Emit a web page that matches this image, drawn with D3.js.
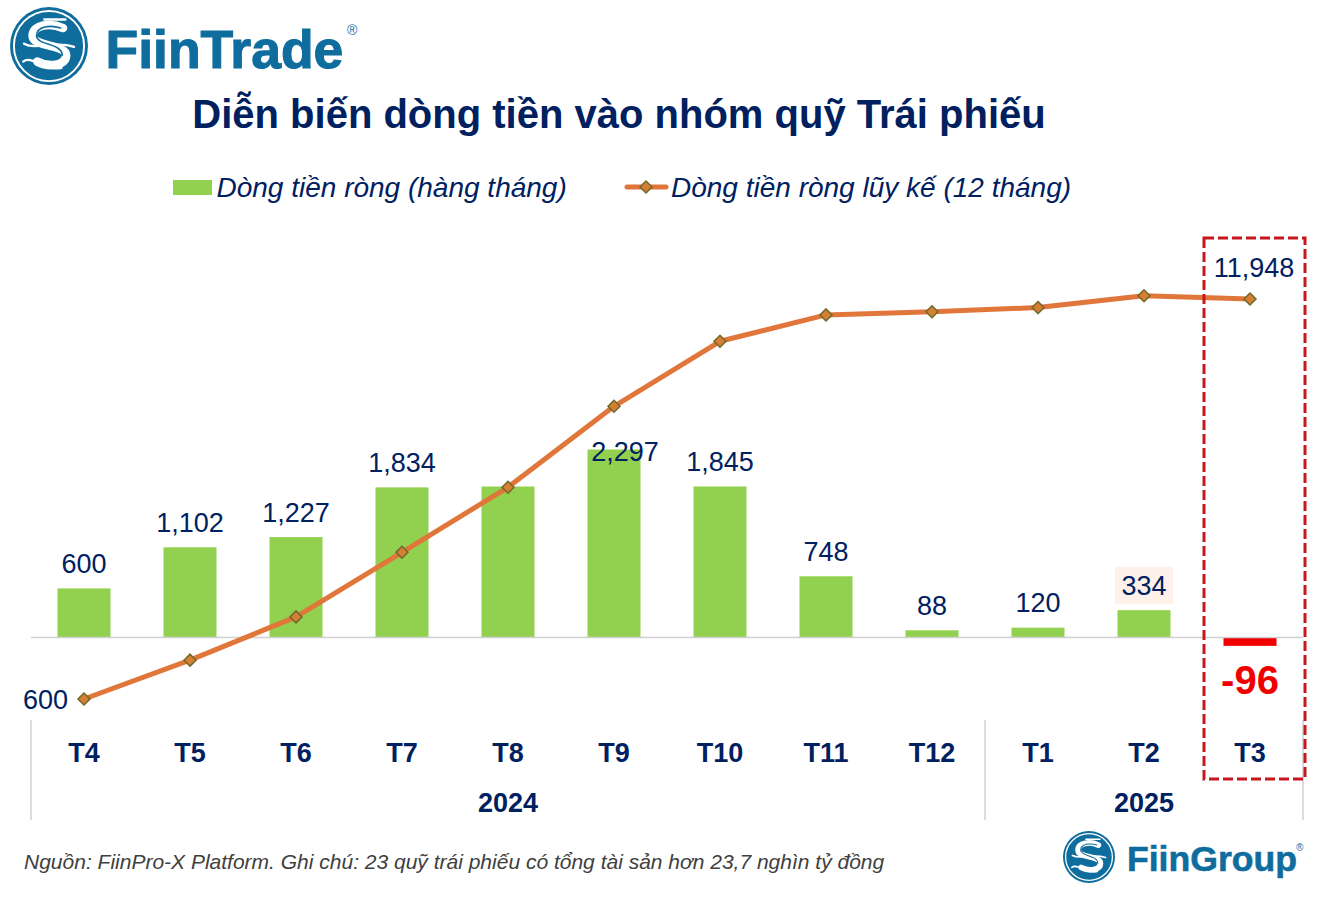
<!DOCTYPE html>
<html>
<head>
	<title>Diễn biến dòng tiền vào nhóm quỹ Trái phiếu</title>
	<script src="https://d3js.org/d3.v7.min.js"></script>
	<style type="text/css">
		html, body { margin: 0; padding: 0; background: #fff; }
		svg { display: block; }
		text { font-family: "Liberation Sans", Arial, sans-serif; }
		.navy { fill: #002060; }
		.month-axis .domain { display: none; }
		.month-axis text { font-size: 27px; font-weight: bold; fill: #002060; }
	</style>
</head>
<body>
<div id="visualization"></div>
<script type="text/javascript">
var months = ["T4", "T5", "T6", "T7", "T8", "T9", "T10", "T11", "T12", "T1", "T2", "T3"];
var monthly = [600, 1102, 1227, 1834, 1845, 2297, 1845, 748, 88, 120, 334, -96];
var cumulative = [600, 1702, 2929, 4763, 6607, 8904, 10749, 11497, 11585, 11705, 12039, 11948];
var hiddenMonthlyLabels = ["T8"];
var lineLabelMonths = ["T4", "T3"];
var years = [
	{label: "2024", mid: "T8", first: "T4"},
	{label: "2025", mid: "T2", first: "T1"}
];

var svg_width = 1325;
var svg_height = 897;
var navy = "#002060";
var logoBlue = "#0f6d9e";
// plain hyphen for the negative label, d3 would give a long minus
var fmt = function(v) { return d3.format(",")(v).replace("\u2212", "-"); };

var svg = d3.select("#visualization")
	.append("svg")
	.attr("width", svg_width)
	.attr("height", svg_height);

var x = d3.scaleBand()
	.domain(months)
	.range([31, 1303])
	.paddingInner(0.5)
	.paddingOuter(0.25);
var center = function(m) { return x(m) + x.bandwidth() / 2; };

// bars and line sit on separate axes, neither is drawn
var yBar = d3.scaleLinear().domain([0, 2297]).range([637.5, 449.5]);
var yLine = d3.scaleLinear().domain([600, 11948]).range([699, 299]);

// title
svg.append("text")
	.attr("x", 619)
	.attr("y", 128)
	.attr("text-anchor", "middle")
	.attr("class", "navy")
	.style("font-size", "40px")
	.style("font-weight", "bold")
	.text("Diễn biến dòng tiền vào nhóm quỹ Trái phiếu");

// legend
svg.append("rect")
	.attr("x", 173).attr("y", 180)
	.attr("width", 39).attr("height", 15)
	.attr("fill", "#92d050");
svg.append("text")
	.attr("x", 216.5).attr("y", 197)
	.attr("class", "navy")
	.style("font-size", "28px")
	.style("font-style", "italic")
	.text("Dòng tiền ròng (hàng tháng)");
svg.append("line")
	.attr("x1", 627).attr("x2", 666)
	.attr("y1", 187).attr("y2", 187)
	.attr("stroke", "#e0763a")
	.attr("stroke-width", 5)
	.attr("stroke-linecap", "round");
svg.append("path")
	.attr("d", d3.symbol(d3.symbolSquare, 72))
	.attr("transform", "translate(646,187) rotate(45)")
	.attr("fill", "#d67f33")
	.attr("stroke", "#6f6a2c")
	.attr("stroke-width", 1.5);
svg.append("text")
	.attr("x", 671).attr("y", 197)
	.attr("class", "navy")
	.style("font-size", "28px")
	.style("font-style", "italic")
	.text("Dòng tiền ròng lũy kế (12 tháng)");

// highlight behind the T2 label
svg.append("rect")
	.attr("x", center("T2") - 29)
	.attr("y", 567)
	.attr("width", 58)
	.attr("height", 37)
	.attr("fill", "#fdf1e9");

// bars
svg.selectAll(".bar")
	.data(months)
	.enter()
	.append("rect")
	.attr("class", "bar")
	.attr("x", function(m) { return x(m); })
	.attr("width", x.bandwidth())
	.attr("y", function(m, i) { return monthly[i] < 0 ? yBar(0) + 0.5 : yBar(monthly[i]); })
	.attr("height", function(m, i) { return Math.abs(yBar(monthly[i]) - yBar(0)); })
	.attr("fill", function(m, i) { return monthly[i] < 0 ? "#f00000" : "#92d050"; });

// baseline
svg.append("line")
	.attr("x1", 31).attr("x2", 1303)
	.attr("y1", yBar(0)).attr("y2", yBar(0))
	.attr("stroke", "#d0d0d0")
	.attr("stroke-width", 1.5);

// bar labels
svg.selectAll(".bar-label")
	.data(months.filter(function(m) { return hiddenMonthlyLabels.indexOf(m) < 0; }))
	.enter()
	.append("text")
	.attr("class", "bar-label")
	.attr("x", function(m) { return center(m) + (m == "T9" ? 11 : 0); })
	.attr("y", function(m) {
		var v = monthly[months.indexOf(m)];
		if (v < 0) return 693.5;
		if (m == "T9") return yBar(v) + 11;
		return yBar(v) - 15.2;
	})
	.attr("text-anchor", "middle")
	.attr("fill", function(m) { return monthly[months.indexOf(m)] < 0 ? "#f00000" : navy; })
	.style("font-size", function(m) { return monthly[months.indexOf(m)] < 0 ? "40px" : "27px"; })
	.style("font-weight", function(m) { return monthly[months.indexOf(m)] < 0 ? "bold" : "normal"; })
	.text(function(m) { return fmt(monthly[months.indexOf(m)]); });

// cumulative line
var line = d3.line()
	.x(function(m) { return center(m); })
	.y(function(m) { return yLine(cumulative[months.indexOf(m)]); });

svg.append("path")
	.datum(months)
	.attr("d", line)
	.attr("fill", "none")
	.attr("stroke", "#e0763a")
	.attr("stroke-width", 5)
	.attr("stroke-linejoin", "round");

svg.selectAll(".marker")
	.data(months)
	.enter()
	.append("path")
	.attr("class", "marker")
	.attr("d", d3.symbol(d3.symbolSquare, 72))
	.attr("transform", function(m) {
		return "translate(" + center(m) + "," + yLine(cumulative[months.indexOf(m)]) + ") rotate(45)";
	})
	.attr("fill", "#d67f33")
	.attr("stroke", "#6f6a2c")
	.attr("stroke-width", 1.5);

svg.selectAll(".line-label")
	.data(lineLabelMonths)
	.enter()
	.append("text")
	.attr("class", "line-label navy")
	.attr("x", function(m) { return m == "T4" ? center(m) - 38.5 : center(m) + 4; })
	.attr("y", function(m) { return m == "T4" ? yLine(cumulative[0]) + 9.5 : yLine(cumulative[11]) - 22; })
	.attr("text-anchor", "middle")
	.style("font-size", "27px")
	.text(function(m) { return fmt(cumulative[months.indexOf(m)]); });

// month axis
svg.append("g")
	.attr("class", "month-axis")
	.attr("transform", "translate(0,737)")
	.call(d3.axisBottom(x).tickSize(0).tickPadding(6));
svg.selectAll(".month-axis text").style("font-family", '"Liberation Sans", Arial, sans-serif');

// year labels and separators
svg.selectAll(".year")
	.data(years)
	.enter()
	.append("text")
	.attr("class", "year navy")
	.attr("x", function(d) { return center(d.mid); })
	.attr("y", 812)
	.attr("text-anchor", "middle")
	.style("font-size", "27px")
	.style("font-weight", "bold")
	.text(function(d) { return d.label; });

var separators = years.map(function(d) { return x(d.first) - x.step() * 0.25; }).concat([1303]);
svg.selectAll(".separator")
	.data(separators)
	.enter()
	.append("line")
	.attr("class", "separator")
	.attr("x1", function(d) { return d; })
	.attr("x2", function(d) { return d; })
	.attr("y1", 720)
	.attr("y2", 820)
	.attr("stroke", "#d0d0d0")
	.attr("stroke-width", 1.5);

// dashed box around the last month
svg.append("rect")
	.attr("x", 1204).attr("y", 238)
	.attr("width", 101).attr("height", 541)
	.attr("fill", "none")
	.attr("stroke", "#c8161d")
	.attr("stroke-width", 3)
	.attr("stroke-dasharray", "10,4");

// footnote
svg.append("text")
	.attr("x", 24).attr("y", 869)
	.attr("fill", "#404040")
	.style("font-size", "21px")
	.style("font-style", "italic")
	.text("Nguồn: FiinPro-X Platform. Ghi chú: 23 quỹ trái phiếu có tổng tài sản hơn 23,7 nghìn tỷ đồng");

// logos
function logoMark(cx, cy, r) {
	var g = svg.append("g").attr("transform", "translate(" + cx + "," + cy + ")");
	g.append("circle").attr("r", r).attr("fill", logoBlue);
	g.append("circle").attr("r", r * 0.9).attr("fill", "none").attr("stroke", "#fff").attr("stroke-width", r * 0.05);
	var s = g.append("g").attr("transform", "scale(" + r + ")")
		.attr("fill", "none").attr("stroke", "#fff").attr("stroke-linecap", "round");
	s.append("path")
		.attr("stroke-width", 0.22)
		.attr("d", "M0.36,-0.46 C0.05,-0.6 -0.42,-0.56 -0.42,-0.26 C-0.42,0.04 0.44,-0.06 0.44,0.24 C0.44,0.52 -0.02,0.55 -0.3,0.4");
	s.append("path")
		.attr("stroke-width", 0.06)
		.attr("d", "M-0.12,-0.68 L0.42,-0.68 M-0.64,-0.06 C-0.3,0.12 0.1,-0.15 0.64,0.02 M-0.66,0.4 C-0.45,0.22 -0.1,0.66 0.32,0.56");
	s.append("path")
		.attr("stroke", logoBlue)
		.attr("stroke-width", 0.04)
		.attr("d", "M0.3,-0.46 C0.05,-0.54 -0.32,-0.52 -0.32,-0.26 C-0.32,-0.02 0.34,-0.08 0.34,0.24");
}

logoMark(49, 46, 39);
svg.append("text")
	.attr("x", 105.5).attr("y", 68)
	.attr("fill", logoBlue)
	.attr("stroke", logoBlue)
	.attr("stroke-width", 1.1)
	.style("font-size", "53.5px")
	.style("font-weight", "bold")
	.text("FiinTrade");
svg.append("text")
	.attr("x", 347).attr("y", 35)
	.attr("fill", logoBlue)
	.style("font-size", "14px")
	.text("®");

logoMark(1089, 857, 26);
svg.append("text")
	.attr("x", 1127).attr("y", 871)
	.attr("fill", logoBlue)
	.attr("stroke", logoBlue)
	.attr("stroke-width", 0.6)
	.style("font-size", "35.6px")
	.style("font-weight", "bold")
	.text("FiinGroup");
svg.append("text")
	.attr("x", 1296).attr("y", 851)
	.attr("fill", logoBlue)
	.style("font-size", "10px")
	.text("®");
</script>
</body>
</html>
